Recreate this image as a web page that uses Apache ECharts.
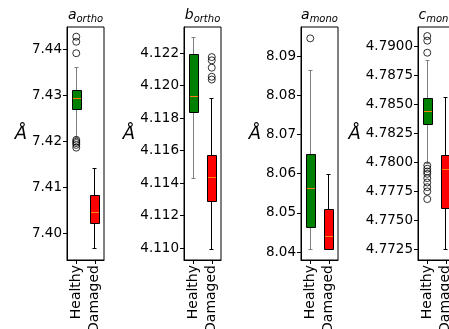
<!DOCTYPE html>
<html>
<head>
<meta charset="utf-8">
<script src="https://cdn.jsdelivr.net/npm/echarts@6/dist/echarts.min.js"></script>
<style>
html,body{margin:0;padding:0;background:#fff;overflow:hidden;}
#c{width:449px;height:329px;}
</style>
</head>
<body>
<div id="c"></div>
<script>
// ---- data ----
const categories = ['Healthy', 'Damaged'];
const panelLetters = ['a', 'b', 'a', 'c'];
const panelSubs = ['ortho', 'ortho', 'mono', 'mono'];

// [min whisker, Q1, median, Q3, max whisker]
const aOrthoHealthy = [7.4207, 7.4268, 7.4292, 7.4311, 7.4360];
const aOrthoDamaged = [7.3966, 7.4022, 7.4046, 7.4082, 7.4141];
const aOrthoHealthyOutliers = [7.4427, 7.4416, 7.4391, 7.4203, 7.4199, 7.4196, 7.4192, 7.4186];
const aOrthoDamagedOutliers = [];
const aOrthoTicks = [7.40, 7.41, 7.42, 7.43, 7.44];

const bOrthoHealthy = [4.11426, 4.11834, 4.11934, 4.12194, 4.12296];
const bOrthoDamaged = [4.10994, 4.11287, 4.11434, 4.11570, 4.11920];
const bOrthoHealthyOutliers = [];
const bOrthoDamagedOutliers = [4.12175, 4.12155, 4.12110, 4.12054, 4.12037];
const bOrthoTicks = [4.110, 4.112, 4.114, 4.116, 4.118, 4.120, 4.122];

const aMonoHealthy = [8.0408, 8.0462, 8.0562, 8.0648, 8.0862];
const aMonoDamaged = [8.0407, 8.0408, 8.0440, 8.0508, 8.0597];
const aMonoHealthyOutliers = [8.0945];
const aMonoDamagedOutliers = [];
const aMonoTicks = [8.04, 8.05, 8.06, 8.07, 8.08, 8.09];

const cMonoHealthy = [4.77995, 4.78328, 4.78442, 4.78552, 4.78885];
const cMonoDamaged = [4.77252, 4.77606, 4.77943, 4.78060, 4.78560];
const cMonoHealthyOutliers = [4.79092, 4.79052, 4.78948, 4.77974, 4.77946, 4.77922, 4.77902, 4.77865, 4.77827, 4.77787, 4.77750, 4.77684];
const cMonoDamagedOutliers = [];
const cMonoTicks = [4.7725, 4.7750, 4.7775, 4.7800, 4.7825, 4.7850, 4.7875, 4.7900];

// ---- layout / style ----
const panels = [
  {h: aOrthoHealthy, d: aOrthoDamaged, ho: aOrthoHealthyOutliers, dout: aOrthoDamagedOutliers, ticks: aOrthoTicks, min: 7.3942, max: 7.4448, dec: 2, gap: 39},
  {h: bOrthoHealthy, d: bOrthoDamaged, ho: bOrthoHealthyOutliers, dout: bOrthoDamagedOutliers, ticks: bOrthoTicks, min: 4.10928, max: 4.1236, dec: 3, gap: 49},
  {h: aMonoHealthy, d: aMonoDamaged, ho: aMonoHealthyOutliers, dout: aMonoDamagedOutliers, ticks: aMonoTicks, min: 8.038, max: 8.0974, dec: 2, gap: 40},
  {h: cMonoHealthy, d: cMonoDamaged, ho: cMonoHealthyOutliers, dout: cMonoDamagedOutliers, ticks: cMonoTicks, min: 4.77158, max: 4.7917, dec: 4, gap: 56}
];
const FONT = 'DejaVu Sans';
const gridLeft0 = 67, gridStep = 117, gridTop = 27, gridW = 37, gridH = 233;
const fillColors = ['#008000', '#ff0000'];
const whiskerColors = ['#7f7f7f', '#000000'];
const medianColor = '#ff7f0e';

function r(v) { return Math.round(v - 0.5) + 0.5; }

function renderBox(params, api) {
  const ci = api.value(0);
  const pMin = api.coord([ci, api.value(1)]);
  const pQ1 = api.coord([ci, api.value(2)]);
  const pMed = api.coord([ci, api.value(3)]);
  const pQ3 = api.coord([ci, api.value(4)]);
  const pMax = api.coord([ci, api.value(5)]);
  const band = api.size([1, 0])[0];
  const bw = band * 0.5;
  const cw = bw * 0.5;
  const cx = r(pMin[0]);
  const wc = whiskerColors[ci];
  const ls = {stroke: wc, lineWidth: 1};
  const x0 = Math.round(pMin[0] - bw / 2) + 0.5;
  const x1 = Math.round(pMin[0] + bw / 2) + 0.5;
  return {
    type: 'group',
    children: [
      {type: 'line', shape: {x1: cx, y1: r(pMin[1]), x2: cx, y2: r(pQ1[1])}, style: ls},
      {type: 'line', shape: {x1: cx, y1: r(pQ3[1]), x2: cx, y2: r(pMax[1])}, style: ls},
      {type: 'line', shape: {x1: r(cx - cw / 2), y1: r(pMin[1]), x2: r(cx + cw / 2), y2: r(pMin[1])}, style: ls},
      {type: 'line', shape: {x1: r(cx - cw / 2), y1: r(pMax[1]), x2: r(cx + cw / 2), y2: r(pMax[1])}, style: ls},
      {type: 'rect', shape: {x: x0, y: r(pQ3[1]), width: x1 - x0, height: r(pQ1[1]) - r(pQ3[1])},
        style: {fill: fillColors[ci], stroke: '#000', lineWidth: 1}},
      {type: 'line', shape: {x1: x0 + 0.5, y1: r(pMed[1]), x2: x1 - 0.5, y2: r(pMed[1])}, style: {stroke: medianColor, lineWidth: 1}}
    ]
  };
}

const grids = [], xAxes = [], yAxes = [], series = [], graphics = [];
panels.forEach((p, i) => {
  const left = gridLeft0 + gridStep * i;
  grids.push({left: left, top: gridTop, width: gridW, height: gridH, show: true, borderColor: '#000', borderWidth: 1,
    backgroundColor: 'transparent', containLabel: false, outerBoundsMode: 'none'});
  xAxes.push({
    type: 'category', gridIndex: i, data: categories, boundaryGap: true,
    axisLine: {show: true, lineStyle: {color: '#000', width: 1}},
    axisTick: {show: true, alignWithLabel: true, length: 4, lineStyle: {color: '#000'}},
    axisLabel: {rotate: 90, margin: 5, fontSize: 14, fontFamily: FONT, color: '#000', interval: 0},
    splitLine: {show: false}
  });
  yAxes.push({
    type: 'value', gridIndex: i, min: p.min, max: p.max, scale: true,
    name: 'Å', nameLocation: 'middle', nameRotate: 0, nameGap: p.gap,
    nameTextStyle: {fontSize: 18, fontStyle: 'italic', fontFamily: FONT, color: '#000', verticalAlign: 'bottom'},
    axisLine: {show: true, lineStyle: {color: '#000', width: 1}},
    axisTick: {show: true, length: 4, lineStyle: {color: '#000'}, customValues: p.ticks},
    axisLabel: {customValues: p.ticks, margin: 5, fontSize: 13.5, fontFamily: FONT, color: '#000',
      formatter: (v) => Number(v).toFixed(p.dec)},
    splitLine: {show: false}
  });
  series.push({
    type: 'custom', xAxisIndex: i, yAxisIndex: i, renderItem: renderBox, silent: true,
    encode: {x: 0, y: [1, 2, 3, 4, 5]},
    data: [[0].concat(p.h), [1].concat(p.d)]
  });
  const outl = p.ho.map(v => [0, v]).concat(p.dout.map(v => [1, v]));
  series.push({
    type: 'scatter', xAxisIndex: i, yAxisIndex: i, silent: true, symbol: 'circle', symbolSize: 7,
    itemStyle: {color: 'rgba(0,0,0,0)', borderColor: '#000', borderWidth: 1},
    data: outl
  });
  graphics.push({
    type: 'text', x: left + gridW / 2, y: gridTop - 3,
    style: {
      text: '{m|' + panelLetters[i] + '}{s|' + panelSubs[i] + '}',
      align: 'center', verticalAlign: 'bottom',
      rich: {
        m: {fontSize: 14, fontStyle: 'italic', fontFamily: FONT, fill: '#000', verticalAlign: 'top', lineHeight: 16},
        s: {fontSize: 10, fontStyle: 'italic', fontFamily: FONT, fill: '#000', verticalAlign: 'bottom', lineHeight: 10, padding: [5, 0, 0, 0]}
      }
    }
  });
});

const chart = echarts.init(document.getElementById('c'), null, {renderer: 'canvas'});
chart.setOption({
  animation: false,
  backgroundColor: '#fff',
  grid: grids, xAxis: xAxes, yAxis: yAxes, series: series, graphic: graphics
});
</script>
</body>
</html>
